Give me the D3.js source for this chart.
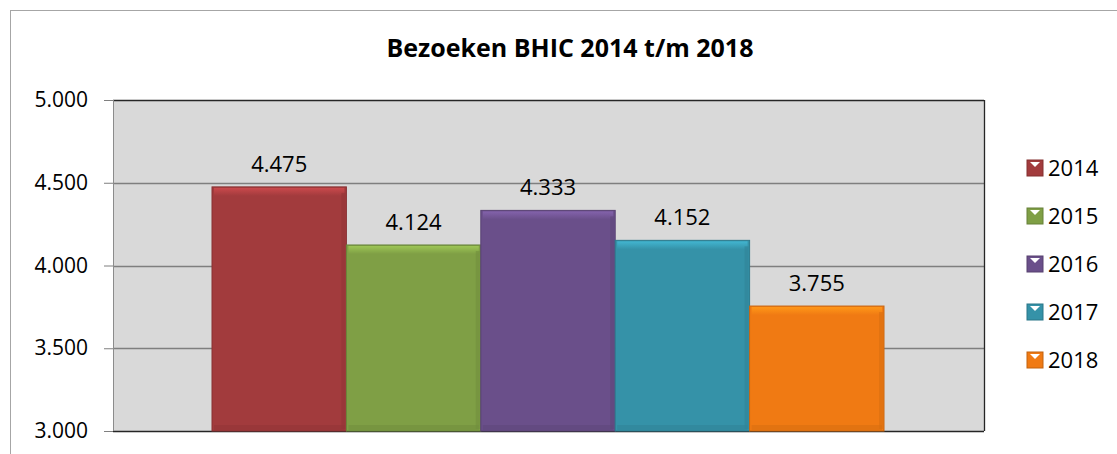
<!DOCTYPE html>
<html>
<head>
<meta charset="utf-8">
<script src="https://cdn.jsdelivr.net/npm/d3@7"></script>
<style>
	body { margin: 0; background: #fff; }
	svg { display: block; }
</style>
</head>
<body>
<div id="chart"></div>
<script>
const years = ["2014", "2015", "2016", "2017", "2018"];
const visits = [4475, 4124, 4333, 4152, 3755];
const barColors = ["#a23b3d", "#7f9f45", "#6a4f8a", "#3592a8", "#f07a13"];
const yTicks = [3000, 3500, 4000, 4500, 5000];

const width = 1117, height = 454;
const plot = { left: 113, right: 984, top: 100, bottom: 431 };

const nl = d3.formatLocale({ decimal: ",", thousands: ".", grouping: [3], currency: ["€", ""] });
const fmt = nl.format(",.0f");

const svg = d3.select("#chart")
	.append("svg")
	.attr("width", width)
	.attr("height", height);

// outer chart frame
svg.append("rect")
	.attr("x", 10.5).attr("y", 10.5)
	.attr("width", width).attr("height", height)
	.attr("fill", "#fff")
	.attr("stroke", "#a6a6a6");

svg.append("text")
	.attr("x", 570).attr("y", 57)
	.attr("text-anchor", "middle")
	.style("font-family", "'Open Sans', sans-serif")
	.style("font-weight", "bold")
	.style("font-size", "25px")
	.text("Bezoeken BHIC 2014 t/m 2018");

const y = d3.scaleLinear().domain([3000, 5000]).range([plot.bottom, plot.top]);
const x = d3.scaleBand().domain(years)
	.range([212, 884]).paddingInner(0).paddingOuter(0);

// plot area
svg.append("rect")
	.attr("x", plot.left).attr("y", plot.top)
	.attr("width", plot.right - plot.left).attr("height", plot.bottom - plot.top)
	.attr("fill", "#d9d9d9");

// gridlines
svg.append("g")
	.selectAll("line")
	.data(yTicks)
	.enter()
	.append("line")
	.attr("x1", plot.left).attr("x2", plot.right)
	.attr("y1", (d) => Math.round(y(d)) + 0.5)
	.attr("y2", (d) => Math.round(y(d)) + 0.5)
	.attr("stroke", (d) => (d === 3000 || d === 5000) ? "#262626" : "#7f7f7f")
	.attr("stroke-width", 1.3);

svg.append("line")
	.attr("x1", plot.left + 0.5).attr("x2", plot.left + 0.5)
	.attr("y1", plot.top).attr("y2", plot.bottom)
	.attr("stroke", "#8c8c8c");
svg.append("line")
	.attr("x1", plot.right + 0.5).attr("x2", plot.right + 0.5)
	.attr("y1", plot.top).attr("y2", plot.bottom)
	.attr("stroke", "#262626").attr("stroke-width", 1.3);

// y axis
const yAxis = svg.append("g")
	.attr("transform", `translate(${plot.left},0)`)
	.call(d3.axisLeft(y).tickValues(yTicks).tickSize(9).tickPadding(16).tickFormat(fmt));
yAxis.select(".domain").remove();
yAxis.selectAll(".tick line").attr("stroke", "#7f7f7f");
yAxis.selectAll("text")
	.attr("fill", "#000")
	.style("font-family", "'Open Sans', sans-serif")
	.style("font-size", "21px");

// bevel gradients
const defs = svg.append("defs");
barColors.forEach((c, i) => {
	const g = defs.append("linearGradient")
		.attr("id", "bev" + i)
		.attr("x1", 0).attr("x2", 0).attr("y1", 0).attr("y2", 1);
	g.append("stop").attr("offset", "0").attr("stop-color", d3.color(c).brighter(0.6));
	g.append("stop").attr("offset", "1").attr("stop-color", c);
});

const bars = svg.append("g")
	.selectAll("g")
	.data(years)
	.enter()
	.append("g");

bars.append("rect")
	.attr("x", (d) => x(d))
	.attr("y", (d, i) => y(visits[i]))
	.attr("width", x.bandwidth())
	.attr("height", (d, i) => plot.bottom - y(visits[i]))
	.attr("fill", (d, i) => barColors[i])
	.attr("stroke", (d, i) => d3.color(barColors[i]).darker(0.5))
	.attr("stroke-width", 1);

// top highlight strip
bars.append("rect")
	.attr("x", (d) => x(d) + 2)
	.attr("y", (d, i) => y(visits[i]) + 1)
	.attr("width", x.bandwidth() - 4)
	.attr("height", 8)
	.attr("fill", (d, i) => `url(#bev${i})`);

// side shading
bars.append("rect")
	.attr("x", (d) => x(d) + x.bandwidth() - 5)
	.attr("y", (d, i) => y(visits[i]) + 6)
	.attr("width", 4)
	.attr("height", (d, i) => plot.bottom - y(visits[i]) - 8)
	.attr("fill", (d, i) => d3.color(barColors[i]).darker(0.3))
	.attr("opacity", 0.6);
bars.append("rect")
	.attr("x", (d) => x(d) + 2)
	.attr("y", plot.bottom - 6)
	.attr("width", x.bandwidth() - 4)
	.attr("height", 5)
	.attr("fill", (d, i) => d3.color(barColors[i]).darker(0.3))
	.attr("opacity", 0.6);

// value labels
bars.append("text")
	.attr("x", (d) => x(d) + x.bandwidth() / 2)
	.attr("y", (d, i) => y(visits[i]) - 15)
	.attr("text-anchor", "middle")
	.style("font-family", "'Open Sans', sans-serif")
	.style("font-size", "22px")
	.attr("fill", "#000")
	.text((d, i) => fmt(visits[i]));

// legend
const legend = svg.append("g")
	.selectAll("g")
	.data(years)
	.enter()
	.append("g")
	.attr("transform", (d, i) => `translate(1027, ${168 + i * 48})`);

legend.append("rect")
	.attr("x", 0).attr("y", -8)
	.attr("width", 16).attr("height", 16)
	.attr("fill", (d, i) => barColors[i])
	.attr("stroke", (d, i) => d3.color(barColors[i]).darker(0.6));
legend.append("path")
	.attr("d", "M3,-6 L13,-6 L8,-1 Z")
	.attr("fill", "#fff");
legend.append("text")
	.attr("x", 21).attr("y", 8)
	.style("font-family", "'Open Sans', sans-serif")
	.style("font-size", "22px")
	.attr("fill", "#000")
	.text((d) => d);
</script>
</body>
</html>
